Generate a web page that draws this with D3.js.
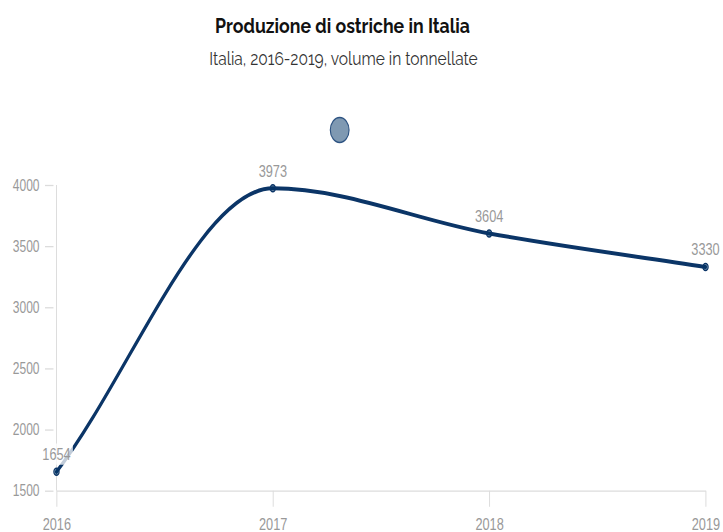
<!DOCTYPE html>
<html>
<head>
<meta charset="utf-8">
<script src="https://cdn.jsdelivr.net/npm/d3@7"></script>
<style>
  html, body { margin: 0; padding: 0; background: #fff; overflow: hidden; }
  svg { display: block; }
</style>
</head>
<body>
<svg id="chart" width="723" height="532"></svg>
<script>
// Data
const years = ["2016", "2017", "2018", "2019"];
const volumes = [1654, 3973, 3604, 3330];
const yTicks = [1500, 2000, 2500, 3000, 3500, 4000];
const titleText = "Produzione di ostriche in Italia";
const subtitleText = "Italia, 2016-2019, volume in tonnellate";

// The whole drawing is condensed horizontally
const W = 723, H = 532, SX = 0.75;
const svg = d3.select("#chart");
const g = svg.append("g").attr("transform", `scale(${SX},1)`);

const x = d3.scalePoint().domain(years).range([75.3, 940.7]);
const y = d3.scaleLinear().domain([1500, 4000]).range([490.7, 185]);

const lineColor = "#0b3567";
const pointFill = "rgba(0,51,102,0.5)";
const gridColor = "#dcdcdc";
const labelColor = "#999";
const tickFont = "'Liberation Sans', Arial, sans-serif";

// Monotone cubic interpolation (Fritsch–Carlson) with secant end tangents
function curveMonotoneSecant(context) {
  let pts;
  return {
    areaStart() {}, areaEnd() {},
    lineStart() { pts = []; },
    point(px, py) { pts.push([+px, +py]); },
    lineEnd() {
      const n = pts.length;
      if (!n) return;
      context.moveTo(pts[0][0], pts[0][1]);
      if (n === 1) return;
      const d = [], m = [];
      for (let i = 0; i < n - 1; i++) {
        d.push((pts[i + 1][1] - pts[i][1]) / (pts[i + 1][0] - pts[i][0]));
      }
      for (let i = 0; i < n; i++) {
        if (i === 0) m.push(d[0]);
        else if (i === n - 1) m.push(d[n - 2]);
        else if (Math.sign(d[i - 1]) !== Math.sign(d[i]) || d[i - 1] === 0 || d[i] === 0) m.push(0);
        else m.push((d[i - 1] + d[i]) / 2);
      }
      for (let i = 0; i < n - 1; i++) {
        if (Math.abs(d[i]) < 1e-9) { m[i] = m[i + 1] = 0; continue; }
        const a = m[i] / d[i], b = m[i + 1] / d[i], s = a * a + b * b;
        if (s > 9) {
          const t = 3 / Math.sqrt(s);
          m[i] = a * t * d[i];
          m[i + 1] = b * t * d[i];
        }
      }
      for (let i = 0; i < n - 1; i++) {
        const [x0, y0] = pts[i], [x1, y1] = pts[i + 1], h = (x1 - x0) / 3;
        context.bezierCurveTo(x0 + h, y0 + h * m[i], x1 - h, y1 - h * m[i + 1], x1, y1);
      }
    }
  };
}

// Title and subtitle
g.append("text")
  .attr("x", 456.7).attr("y", 33)
  .attr("text-anchor", "middle")
  .attr("textLength", 340).attr("lengthAdjust", "spacingAndGlyphs")
  .style("font-family", "Raleway, Lato, sans-serif")
  .style("font-weight", 700).style("font-size", "20px")
  .style("fill", "#111")
  .text(titleText);

g.append("text")
  .attr("x", 458).attr("y", 65)
  .attr("text-anchor", "middle")
  .attr("textLength", 358).attr("lengthAdjust", "spacingAndGlyphs")
  .style("font-family", "Raleway, Lato, sans-serif")
  .style("font-weight", 400).style("font-size", "18px")
  .style("fill", "#333")
  .text(subtitleText);

// Legend marker
g.append("circle")
  .attr("cx", 452.9).attr("cy", 130).attr("r", 12.5)
  .attr("fill", pointFill)
  .attr("stroke", "#2d5382").attr("stroke-width", 1.5);

// Y axis: ticks, labels and border line
const yAxis = g.append("g")
  .attr("transform", "translate(71.3,0)")
  .call(d3.axisLeft(y).tickValues(yTicks).tickFormat(d3.format("d"))
    .tickSize(11.3).tickSizeOuter(0).tickPadding(7.3));
yAxis.select(".domain").remove();
yAxis.selectAll(".tick line").attr("stroke", gridColor).attr("stroke-width", 1.3);
yAxis.selectAll(".tick text")
  .style("font-family", tickFont).style("font-size", "16px").style("fill", labelColor);

g.append("line")
  .attr("x1", x(years[0])).attr("x2", x(years[0]))
  .attr("y1", y(4000)).attr("y2", y(1500))
  .attr("stroke", gridColor).attr("stroke-width", 1.3);

// X axis
const xAxis = g.append("g")
  .attr("transform", `translate(0,${y(1500)})`)
  .call(d3.axisBottom(x).tickSize(16).tickSizeOuter(0).tickPadding(11.2));
xAxis.select(".domain").attr("stroke", gridColor).attr("stroke-width", 1.3);
xAxis.selectAll(".tick line").attr("stroke", gridColor).attr("stroke-width", 1.3);
xAxis.selectAll(".tick text")
  .style("font-family", tickFont).style("font-size", "17px").style("fill", labelColor);

// Series line
const data = years.map((yr, i) => ({ year: yr, value: volumes[i] }));
const line = d3.line()
  .x(d => x(d.year))
  .y(d => y(d.value))
  .curve(curveMonotoneSecant);

g.append("path")
  .datum(data)
  .attr("d", line)
  .attr("fill", "none")
  .attr("stroke", lineColor)
  .attr("stroke-width", 4)
  .attr("stroke-linejoin", "round")
  .attr("stroke-linecap", "round");

// Point markers
g.selectAll("circle.pt")
  .data(data)
  .join("circle")
  .attr("class", "pt")
  .attr("cx", d => x(d.year))
  .attr("cy", d => y(d.value))
  .attr("r", 3.5)
  .attr("fill", pointFill)
  .attr("stroke", lineColor)
  .attr("stroke-width", 1.5);

// Value labels with a translucent white backing
const labels = g.selectAll("g.lbl")
  .data(data)
  .join("g")
  .attr("class", "lbl");

labels.append("rect");
labels.append("text")
  .attr("x", d => x(d.year))
  .attr("y", d => y(d.value) - 11.5)
  .attr("text-anchor", "middle")
  .style("font-family", tickFont).style("font-size", "17px").style("fill", labelColor)
  .text(d => d.value);

labels.each(function () {
  const grp = d3.select(this);
  const bb = grp.select("text").node().getBBox();
  grp.select("rect")
    .attr("x", bb.x - 3).attr("y", bb.y - 1)
    .attr("width", bb.width + 6).attr("height", bb.height + 2)
    .attr("fill", "rgba(255,255,255,0.75)");
});
</script>
</body>
</html>
